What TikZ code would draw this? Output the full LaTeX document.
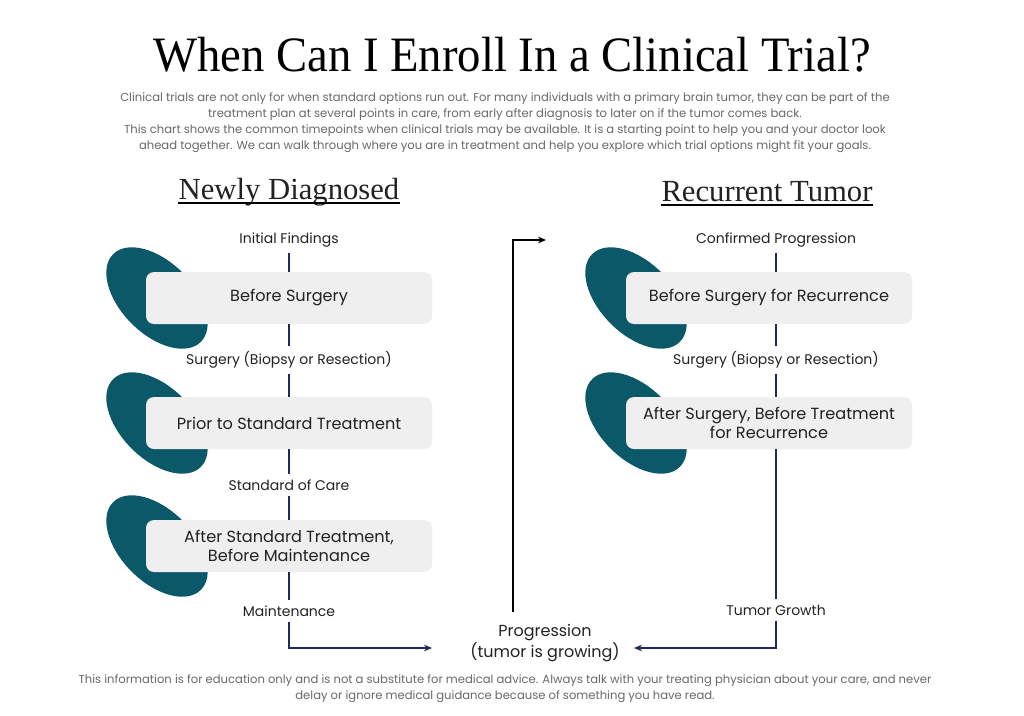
\documentclass[tikz,border=0pt]{standalone}
\usepackage{fontspec}
\setmainfont{Poppins}
\newfontfamily\headfont{Liberation Serif}
\usetikzlibrary{arrows.meta,positioning,shapes.geometric}

\definecolor{blobteal}{RGB}{10,88,104}
\definecolor{boxgray}{RGB}{239,239,239}
\definecolor{linknavy}{RGB}{30,42,92}
\definecolor{txtdark}{RGB}{34,34,34}
\definecolor{txtsoft}{RGB}{105,105,105}

\begin{document}
\begin{tikzpicture}[x=0.75pt,y=-0.75pt,every node/.style={font=\fontsize{10.5}{12}\selectfont,text=txtdark},
  stage/.style={fill=boxgray,rounded corners=6pt,minimum width=214.5pt,minimum height=39pt,align=center,font=\fontsize{12.1}{14.2}\selectfont},
  blob/.style={fill=blobteal,ellipse,minimum width=93pt,minimum height=54pt,inner sep=0pt,rotate=-45},
  point/.style={inner sep=4pt},
  flow/.style={draw=linknavy,line width=1.3pt},
  back/.style={draw=black,line width=1.3pt,-{Stealth[length=6pt,width=5pt]}},
  heading/.style={inner sep=0pt,font=\headfont\fontsize{23}{26}\selectfont},
  note/.style={align=center,text=txtsoft,font=\fontsize{8.7}{12}\selectfont}]
\fill[white] (0,0) rectangle (1024,715);
\useasboundingbox (0,0) rectangle (1024,715);

% title and intro
\node[font=\headfont\fontsize{35}{38}\selectfont,text=black,yscale=1.06] (title) at (512,55) {When Can I Enroll In a Clinical Trial?};
\node[note] (intro) at (505,123) {Clinical trials are not only for when standard options run out. For many individuals with a primary brain tumor, they can be part of the\\
treatment plan at several points in care, from early after diagnosis to later on if the tumor comes back.\\
This chart shows the common timepoints when clinical trials may be available. It is a starting point to help you and your doctor look\\
ahead together. We can walk through where you are in treatment and help you explore which trial options might fit your goals.};

% column headings
\node[heading,anchor=base] (hnew) at (289,199) {Newly Diagnosed};
\node[heading,anchor=base] (hrec) at (767,201) {Recurrent Tumor};
\draw[line width=1pt] ([yshift=-3pt]hnew.base west) -- ([yshift=-3pt]hnew.base east);
\draw[line width=1pt] ([yshift=-3pt]hrec.base west) -- ([yshift=-3pt]hrec.base east);

% newly diagnosed
\node[blob] (nb1) at (157,298) {};
\node[blob] (nb2) at (157,423) {};
\node[blob] (nb3) at (157,546) {};
\node[stage] (ns1) at (289,298) {Before Surgery};
\node[stage] (ns2) at (289,423) {Prior to Standard Treatment};
\node[stage] (ns3) at (289,546) {After Standard Treatment,\\Before Maintenance};
\node[point] (np1) at (289,240) {Initial Findings};
\node[point] (np2) at (289,360) {Surgery (Biopsy or Resection)};
\node[point] (np3) at (289,485) {Standard of Care};
\node[point] (np4) at (289,611) {Maintenance};
\draw[flow] (np1) -- (ns1);
\draw[flow] (ns1) -- (np2);
\draw[flow] (np2) -- (ns2);
\draw[flow] (ns2) -- (np3);
\draw[flow] (np3) -- (ns3);
\draw[flow] (ns3) -- (np4);

% recurrent tumor
\node[blob] (rb1) at (636,298) {};
\node[blob] (rb2) at (636,423) {};
\node[stage] (rs1) at (769,298) {Before Surgery for Recurrence};
\node[stage] (rs2) at (769,423) {After Surgery, Before Treatment\\for Recurrence};
\node[point] (rp1) at (776,240) {Confirmed Progression};
\node[point] (rp2) at (776,360) {Surgery (Biopsy or Resection)};
\node[point] (rp3) at (776,610) {Tumor Growth};
\draw[flow] (rp1) -- (rp1 |- rs1.north);
\draw[flow] (rp2 |- rs1.south) -- (rp2);
\draw[flow] (rp2) -- (rp2 |- rs2.north);
\draw[flow] (rp3 |- rs2.south) -- (rp3);

% progression
\node[align=center,font=\fontsize{12}{14.2}\selectfont] (prog) at (545,643) {Progression\\(tumor is growing)};
\coordinate (pin) at (432,648);
\coordinate (pout) at (634,648);
\coordinate (upfoot) at (513,612);
\coordinate (uptop) at (546,240);
\draw[flow,-{Stealth[length=6pt,width=5pt]}] (np4) |- (pin);
\draw[flow,-{Stealth[length=6pt,width=5pt]}] (rp3) |- (pout);
\draw[back] (upfoot) |- (uptop);

% footer
\node[note] (foot) at (505,689) {This information is for education only and is not a substitute for medical advice. Always talk with your treating physician about your care, and never\\
delay or ignore medical guidance because of something you have read.};
\end{tikzpicture}
\end{document}
